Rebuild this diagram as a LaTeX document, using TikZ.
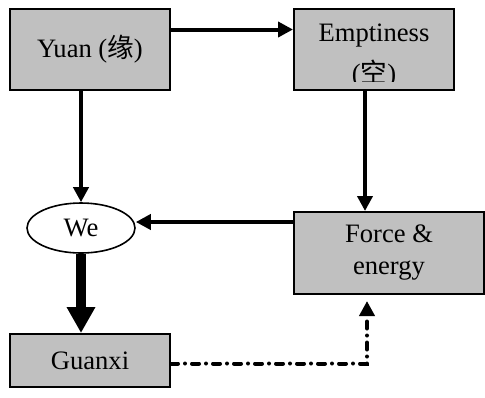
\documentclass[tikz,border=0pt]{standalone}
\usepackage{fontspec}
\setmainfont{Liberation Serif}
\newfontfamily\cjk{Noto Sans CJK SC}
\usetikzlibrary{arrows.meta,shapes.geometric}
\definecolor{boxgray}{HTML}{C0C0C0}

\begin{document}
\begin{tikzpicture}[x=0.5pt, y=-0.5pt, every node/.style={font=\fontsize{13.3}{16}\selectfont},
  graybox/.style={rectangle, draw, line width=1pt, fill=boxgray, minimum width=80pt, minimum height=40.5pt, inner sep=0pt, align=center},
  weoval/.style={ellipse, draw, line width=0.8pt, fill=white, minimum width=54pt, minimum height=25pt, inner sep=0pt},
  arr/.style={line width=2pt, -{Triangle[length=7.5pt, width=7.5pt]}},
  thickarr/.style={line width=5pt, -{Triangle[length=13pt, width=13.5pt]}},
  dashdot/.style={line width=2pt, line cap=round, dash pattern=on 3.5pt off 3.5pt on 0pt off 3.5pt, -{Triangle[length=7.5pt, width=7.5pt, line cap=butt]}},
]
\useasboundingbox (0,0) rectangle (485,397);

% top row
\node[graybox] (yuan) at (90,49.5) {Yuan ({\cjk 缘})};
\node[graybox] (empt) at (374,49.5) {};
\begin{scope}
  \clip (empt.north west) rectangle ([yshift=5pt]empt.south east);
  \node[align=center] at (374,56) {Emptiness\\[4.5pt]({\cjk 空})};
\end{scope}

% middle row
\node[weoval] (we) at (81,228) {We};
\node[graybox, minimum width=95pt, minimum height=41pt] (force) at (389,253) {Force \&\\energy};

% bottom row
\node[graybox, minimum height=26.5pt] (guanxi) at (90,360.5) {Guanxi};

% connectors
\draw[arr] ([yshift=10pt]yuan.east) -- ([yshift=10pt]empt.west);
\draw[arr] (yuan.south -| we.north) -- (we.north);
\draw[arr] ([xshift=-4.5pt]empt.south) -- ([xshift=-4.5pt]empt.south |- force.north);
\draw[arr] ([yshift=3pt]force.west |- we.east) -- ([yshift=3pt]we.east);
\draw[thickarr] (we.south) -- (we.south |- guanxi.north);
\draw[dashdot] ([yshift=-1.5pt]guanxi.east) -| ([xshift=-11pt, yshift=-3pt]force.south);

\end{tikzpicture}
\end{document}
